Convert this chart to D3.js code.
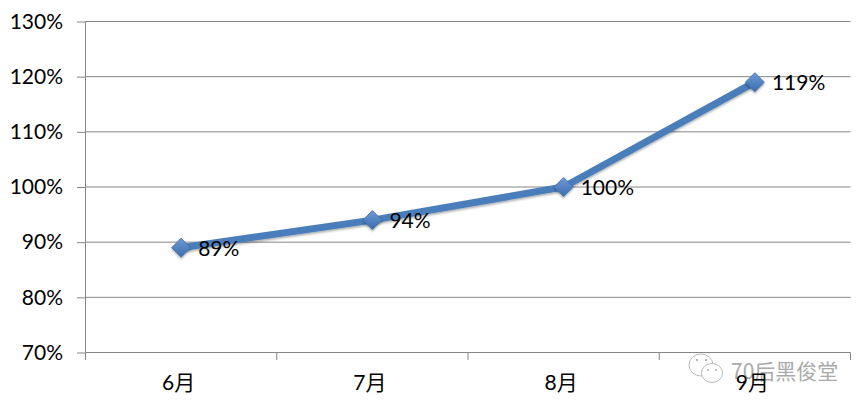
<!DOCTYPE html>
<html>
<head>
<meta charset="utf-8">
<script src="https://cdn.jsdelivr.net/npm/d3@7"></script>
<style>
  html, body { margin: 0; padding: 0; background: #fff; }
  svg { display: block; }
  text { font-family: Lato, "Noto Sans CJK SC", sans-serif; fill: #000; }
</style>
</head>
<body>
<script>
const months = ["6月", "7月", "8月", "9月"];
const rates = [89, 94, 100, 119];
const yTicks = [70, 80, 90, 100, 110, 120, 130];

const width = 865, height = 408;
const svg = d3.select("body").append("svg").attr("width", width).attr("height", height);

const x = d3.scaleBand().domain(months).range([85.5, 850.5]);
const y = d3.scaleLinear().domain([70, 130]).range([352.5, 21.5]);
const axisColor = "#868686";

const defs = svg.append("defs");
const grad = defs.append("linearGradient").attr("id", "marker").attr("x1", 0).attr("y1", 0).attr("x2", 0).attr("y2", 1);
grad.append("stop").attr("offset", "0%").attr("stop-color", "#6f9bd6");
grad.append("stop").attr("offset", "100%").attr("stop-color", "#3a6cad");
const shadow = defs.append("filter").attr("id", "shadow").attr("x", "-30%").attr("y", "-30%").attr("width", "160%").attr("height", "160%");
shadow.append("feDropShadow").attr("dx", 0).attr("dy", 1.5).attr("stdDeviation", 1).attr("flood-color", "#000").attr("flood-opacity", 0.35);

// y axis with gridlines
const yAxis = svg.append("g").attr("transform", "translate(85.5,0)")
    .call(d3.axisLeft(y).tickValues(yTicks).tickSize(8.5).tickPadding(14).tickFormat(d => d + "%"));
yAxis.selectAll("line").attr("stroke", axisColor);
yAxis.select(".domain").attr("stroke", axisColor).attr("d", "M0,21.5V352.5");
yAxis.selectAll("text").style("font-size", "21px").attr("dy", "0.32em");

svg.append("g").selectAll("line").data(yTicks).enter().append("line")
    .attr("x1", 85.5).attr("x2", 850.5)
    .attr("y1", d => y(d)).attr("y2", d => y(d))
    .attr("stroke", axisColor);

// x axis, ticks sit between the categories
const xAxis = svg.append("g").attr("transform", "translate(0,352.5)")
    .call(d3.axisBottom(x).tickSize(0).tickPadding(23));
xAxis.select(".domain").remove();
xAxis.selectAll("text").style("font-size", "21px").attr("dx", -2.5);
svg.append("g").selectAll("line").data(months.concat("end")).enter().append("line")
    .attr("x1", (d, i) => 85.5 + i * x.bandwidth())
    .attr("x2", (d, i) => 85.5 + i * x.bandwidth())
    .attr("y1", 352.5).attr("y2", 360)
    .attr("stroke", axisColor);

const cx = (d, i) => x(months[i]) + x.bandwidth() / 2;

// series line
svg.append("path").datum(rates)
    .attr("d", d3.line().x(cx).y(d => y(d)))
    .attr("fill", "none")
    .attr("stroke", "#4a7ebb")
    .attr("stroke-width", 7)
    .attr("filter", "url(#shadow)");

// diamond markers
svg.append("g").selectAll("path").data(rates).enter().append("path")
    .attr("d", d3.symbol(d3.symbolDiamond2, 230)())
    .attr("transform", (d, i) => `translate(${cx(d, i)},${y(d)})`)
    .attr("fill", "url(#marker)")
    .attr("stroke", "#3f6fa8")
    .attr("stroke-width", 0.8)
    .attr("filter", "url(#shadow)");

// data labels
svg.append("g").selectAll("text").data(rates).enter().append("text")
    .attr("x", (d, i) => cx(d, i) + 17)
    .attr("y", d => y(d))
    .attr("dy", "0.38em")
    .style("font-size", "21px")
    .text(d => d + "%");

// watermark
const wm = svg.append("g").attr("fill", "#fff").attr("stroke", "#aaa").attr("stroke-width", 0.8);
wm.append("ellipse").attr("cx", 701).attr("cy", 365).attr("rx", 12).attr("ry", 11);
wm.append("ellipse").attr("cx", 712).attr("cy", 373).attr("rx", 10.5).attr("ry", 9.5);
const eyes = [[697, 360], [706, 360], [708, 370], [716, 370]];
wm.selectAll("circle").data(eyes).enter().append("circle")
    .attr("cx", d => d[0]).attr("cy", d => d[1]).attr("r", 0.9)
    .attr("fill", "#999").attr("stroke", "none");
svg.append("text").attr("x", 731).attr("y", 379)
    .style("font-family", '"Noto Sans CJK SC", sans-serif')
    .style("font-size", "21px")
    .style("fill", "#aaa")
    .text("70后黑俊堂");

// 9月 is drawn over the watermark
xAxis.raise();
</script>
</body>
</html>
